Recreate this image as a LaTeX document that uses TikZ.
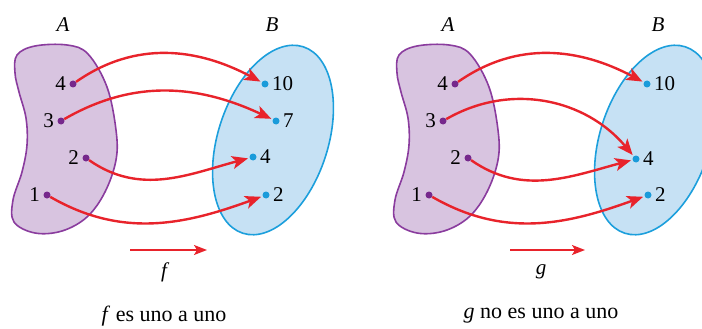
\documentclass[tikz,border=0pt]{standalone}
\usepackage{fontspec}
\setmainfont{Liberation Serif}
\usetikzlibrary{arrows.meta,positioning}
\definecolor{purpleline}{HTML}{8A3C9E}
\definecolor{purplefill}{HTML}{D8C4E0}
\definecolor{purpledot}{HTML}{76288C}
\definecolor{blueline}{HTML}{1C9FDC}
\definecolor{bluefill}{HTML}{C6E1F4}
\definecolor{bluedot}{HTML}{1A9BDA}
\definecolor{mapred}{HTML}{E8232B}
\newcommand{\blobshape}{plot[smooth cycle, tension=0.6] coordinates {
  (15,-73) (17,-55) (35,-46) (67,-45) (88,-54) (107,-87) (116,-130)
  (116,-160) (105,-192) (87,-217) (62,-231) (35,-233) (14,-222)
  (13,-200) (22,-172) (27,-145) (26,-118) (19,-92)}}
\tikzset{
  setA/.style={draw=purpleline, fill=purplefill, line width=1.6pt},
  setB/.style={draw=blueline, fill=bluefill, line width=1.6pt},
  dotA/.style={circle, fill=purpledot, inner sep=0pt, minimum size=7pt,
               label distance=1.5pt},
  dotB/.style={circle, fill=bluedot, inner sep=0pt, minimum size=7pt,
               label distance=1.5pt},
  maparrow/.style={-{Stealth[length=16pt, width=13pt, inset=4pt]}, line width=2.4pt,
                   draw=mapred, shorten >=1.5pt},
  namearrow/.style={-{Stealth[length=13pt, width=10pt, inset=3pt]}, line width=1.5pt,
                    draw=mapred},
  setname/.style={font=\fontsize{21}{25}\selectfont\itshape},
  caption/.style={font=\fontsize{22}{26}\selectfont},
}

\begin{document}
\begin{tikzpicture}[x=1pt, y=1pt, font=\fontsize{21}{25}\selectfont]
  \clip (0,0) rectangle (702,-329);
  % f es uno a uno
  \begin{scope}
    \draw[setA] \blobshape;
    \draw[setB, rotate around={72:(273,-140)}] (273,-140) ellipse [x radius=98, y radius=55];
    \node[setname] (nameA) at (63,-25) {A};
    \node[setname] (nameB) at (272,-25) {B};
    \node[dotA, label=left:4] (a4) at (73,-84) {};
    \node[dotA, label=left:3] (a3) at (61,-121) {};
    \node[dotA, label=left:2] (a2) at (86,-158) {};
    \node[dotA, label=left:1] (a1) at (47,-195) {};
    \node[dotB, label=right:10] (b10) at (265,-84) {};
    \node[dotB, label=right:7] (b7) at (276,-121) {};
    \node[dotB, label=right:4] (b4) at (253,-157) {};
    \node[dotB, label=right:2] (b2) at (266,-195) {};
    \draw[maparrow] (a4) to[out=35, in=152] (b10);
    \draw[maparrow] (a3) to[out=30, in=155] (b7);
    \draw[maparrow] (a2) to[out=-35, in=195] (b4);
    \draw[maparrow] (a1) to[out=-30, in=200] (b2);
    \coordinate (fstart) at (130,-250);
    \coordinate (fend) at (207,-250);
    \draw[namearrow] (fstart) -- (fend);
    \node[setname] (fname) at (164,-272) {f};
    \node[caption] (fcap) at (164,-316) {\textit{f} es uno a uno};
  \end{scope}
  % g no es uno a uno
  \begin{scope}[xshift=382pt]
    \draw[setA] \blobshape;
    \draw[setB, rotate around={72:(273,-140)}] (273,-140) ellipse [x radius=98, y radius=55];
    \node[setname] (nameC) at (66,-25) {A};
    \node[setname] (nameD) at (276,-25) {B};
    \node[dotA, label=left:4] (c4) at (73,-84) {};
    \node[dotA, label=left:3] (c3) at (61,-121) {};
    \node[dotA, label=left:2] (c2) at (86,-158) {};
    \node[dotA, label=left:1] (c1) at (47,-195) {};
    \node[dotB, label=right:10] (d10) at (265,-84) {};
    \node[dotB, label=right:4] (d4) at (254,-159) {};
    \node[dotB, label=right:2] (d2) at (266,-195) {};
    \draw[maparrow] (c4) to[out=35, in=152] (d10);
    \draw[maparrow] (c3) to[out=30, in=130] (d4);
    \draw[maparrow] (c2) to[out=-35, in=195] (d4);
    \draw[maparrow] (c1) to[out=-30, in=200] (d2);
    \coordinate (gstart) at (128,-250);
    \coordinate (gend) at (203,-250);
    \draw[namearrow] (gstart) -- (gend);
    \node[setname] (gname) at (159,-272) {g};
    \node[caption] (gcap) at (159,-316) {\textit{g} no es uno a uno};
  \end{scope}
\end{tikzpicture}
\end{document}
